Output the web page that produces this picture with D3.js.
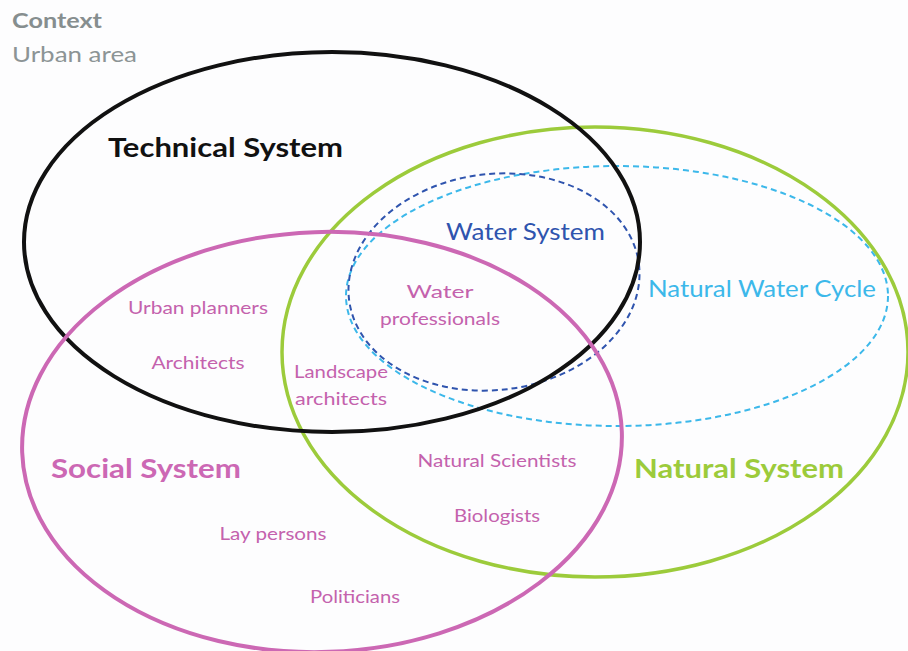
<!DOCTYPE html>
<html lang="en">
<head>
<meta charset="UTF-8">
<title>Urban water context</title>
<script src="https://cdn.jsdelivr.net/npm/d3@7"></script>
<style>
    html, body { margin: 0; padding: 0; background: #fdfdfe; }
    svg { display: block; }
    text { font-family: Lato, "Open Sans", sans-serif; }
</style>
</head>
<body>
<svg id="chart" width="908" height="651"></svg>
<script>
    // Systems (ellipses) in picture units: centre, radii, tilt
    const systems = ['Technical System', 'Social System', 'Natural System', 'Natural Water Cycle', 'Water System'];
    const centerX = [332, 322, 595, 617, 494];
    const centerY = [242, 442, 352, 296, 282];
    const radiusX = [308, 300, 313, 271, 146];
    const radiusY = [190, 210, 225, 130, 108];
    const tilt    = [0, -2, 0, 0, -7];

    // Actors placed inside the systems
    const actors = ['Urban planners', 'Architects', 'Water', 'professionals', 'Landscape', 'architects',
                    'Natural Scientists', 'Biologists', 'Lay persons', 'Politicians'];
    const actorX = [198, 198, 440, 440, 341, 341, 497, 497, 273, 355];
    const actorY = [314, 369, 298, 325, 378, 405, 467, 522, 540, 603];

    const titles = ['Context', 'Urban area', 'Technical System', 'Water System', 'Natural Water Cycle',
                    'Social System', 'Natural System'];
    const titleX = [12, 12, 108, 446, 648, 51, 634];
    const titleY = [28, 62, 157, 240, 297, 478, 478];

    const colors = {
        'Technical System': '#111111',
        'Social System': '#cc68b4',
        'Natural System': '#9ccb3b',
        'Natural Water Cycle': '#3cb8ea',
        'Water System': '#2f54ae',
        'Context': '#868e8f',
        'Urban area': '#8c9495',
        actor: '#c462ad'
    };

    const svg = d3.select('#chart');
    const width = 908, height = 651;
    const x = d3.scaleLinear().domain([0, 908]).range([0, width]);
    const y = d3.scaleLinear().domain([0, 651]).range([0, height]);

    svg.append('rect').attr('width', width).attr('height', height).attr('fill', '#fdfdfe');

    const ellipses = systems.map((name, i) => ({
        name, cx: centerX[i], cy: centerY[i], rx: radiusX[i], ry: radiusY[i], tilt: tilt[i]
    }));

    // drawing order: green, cycle, water, black, pink
    const order = ['Natural System', 'Natural Water Cycle', 'Water System', 'Technical System', 'Social System'];
    const dashed = new Set(['Natural Water Cycle', 'Water System']);

    svg.append('g')
        .selectAll('ellipse')
        .data(order.map(n => ellipses.find(e => e.name === n)))
        .join('ellipse')
        .attr('cx', d => x(d.cx))
        .attr('cy', d => y(d.cy))
        .attr('rx', d => x(d.rx) - x(0))
        .attr('ry', d => y(d.ry) - y(0))
        .attr('transform', d => `rotate(${d.tilt},${x(d.cx)},${y(d.cy)})`)
        .attr('fill', 'none')
        .attr('stroke', d => colors[d.name])
        .attr('stroke-width', d => dashed.has(d.name) ? 2 : (d.name === 'Natural System' ? 3.5 : 4))
        .attr('stroke-dasharray', d => dashed.has(d.name) ? '6,4' : null);

    // Titles
    const titleStyle = {
        'Context': { size: 21, weight: 700, w: 90 },
        'Urban area': { size: 21, weight: 400, w: 125 },
        'Technical System': { size: 27, weight: 700, w: 235 },
        'Water System': { size: 23, weight: 400, w: 159 },
        'Natural Water Cycle': { size: 23, weight: 400, w: 228 },
        'Social System': { size: 27, weight: 700, w: 190 },
        'Natural System': { size: 27, weight: 700, w: 210 }
    };

    svg.append('g')
        .selectAll('text')
        .data(titles.map((t, i) => ({ t, x: titleX[i], y: titleY[i] })))
        .join('text')
        .attr('x', d => x(d.x))
        .attr('y', d => y(d.y))
        .attr('fill', d => colors[d.t])
        .attr('font-size', d => titleStyle[d.t].size)
        .attr('font-weight', d => titleStyle[d.t].weight)
        .attr('textLength', d => titleStyle[d.t].w)
        .attr('lengthAdjust', 'spacingAndGlyphs')
        .text(d => d.t);

    // Actor labels
    const actorWidth = {
        'Urban planners': 140, 'Architects': 93, 'Water': 67, 'professionals': 120,
        'Landscape': 94, 'architects': 92, 'Natural Scientists': 159, 'Biologists': 86,
        'Lay persons': 107, 'Politicians': 90
    };

    svg.append('g')
        .selectAll('text')
        .data(actors.map((t, i) => ({ t, x: actorX[i], y: actorY[i] })))
        .join('text')
        .attr('x', d => x(d.x))
        .attr('y', d => y(d.y))
        .attr('text-anchor', 'middle')
        .attr('fill', colors.actor)
        .attr('font-size', 18)
        .attr('textLength', d => actorWidth[d.t])
        .attr('lengthAdjust', 'spacingAndGlyphs')
        .text(d => d.t);
</script>
</body>
</html>
